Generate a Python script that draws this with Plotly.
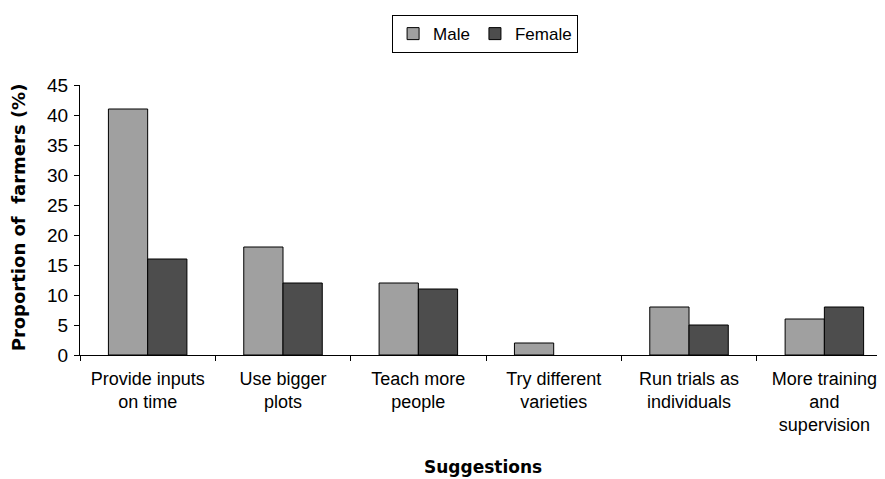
import plotly.graph_objects as go

categories = ["Provide inputs<br>on time", "Use bigger<br>plots", "Teach more<br>people",
              "Try different<br>varieties", "Run trials as<br>individuals", "More training<br>and<br>supervision"]
male = [41, 18, 12, 2, 8, 6]
female = [16, 12, 11, 0, 5, 8]
y_ticks = [0, 5, 10, 15, 20, 25, 30, 35, 40, 45]

FONT = "Liberation Sans, Arial, sans-serif"
BOLD = "DejaVu Sans, Liberation Sans, Arial, sans-serif"

fig = go.Figure()
fig.add_trace(go.Bar(name="Male", x=categories, y=male,
                     marker=dict(color="#a0a0a0",
                                 line=dict(color="#000000", width=[0 if v == 0 else 1 for v in male]))))
fig.add_trace(go.Bar(name="Female", x=categories, y=female,
                     marker=dict(color="#4d4d4d",
                                 line=dict(color="#000000", width=[0 if v == 0 else 1 for v in female]))))

fig.update_layout(
    width=877, height=471,
    margin=dict(l=72, r=0, t=77, b=124, autoexpand=False),
    paper_bgcolor="white", plot_bgcolor="white",
    barmode="group", bargap=0.42, bargroupgap=0,
    font=dict(family=FONT, size=17, color="#000000"),
    showlegend=True,
    legend=dict(orientation="h", xref="container", yref="container",
                x=0.544, xanchor="center", y=0.985, yanchor="top",
                bordercolor="#000000", borderwidth=1, font=dict(size=17),
                itemwidth=30, tracegroupgap=0),
    xaxis=dict(range=[-0.5, 5.448], showline=True, linecolor="#000000", linewidth=1,
               ticks="outside", tickson="boundaries", ticklen=5, tickcolor="#000000",
               showgrid=False, tickfont=dict(size=18), automargin=False, fixedrange=True,
               ticklabelstandoff=7),
    yaxis=dict(range=[0, 45], tickvals=y_ticks, showline=True, linecolor="#000000", linewidth=1,
               ticks="outside", ticklen=5, tickcolor="#000000", showgrid=False,
               zeroline=False, tickfont=dict(size=19), automargin=False, ticklabelstandoff=2),
    annotations=[
        dict(text="<b>Suggestions</b>", x=0.5, y=-0.415, xref="paper", yref="paper",
             showarrow=False, font=dict(size=17, family=BOLD), xanchor="center", yanchor="middle"),
        dict(text="<b>Proportion of \u00a0farmers (%)</b>", x=-0.077, y=0.51, xref="paper", yref="paper",
             showarrow=False, font=dict(size=18, family=BOLD), textangle=-90,
             xanchor="center", yanchor="middle"),
    ],
)

fig.write_html("out.html")
